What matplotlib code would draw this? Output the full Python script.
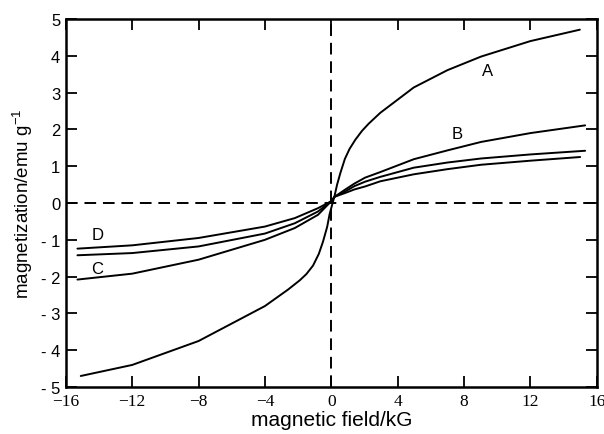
import matplotlib
matplotlib.use("Agg")
import matplotlib.pyplot as plt

plt.rcParams['font.family'] = ['Liberation Sans', 'DejaVu Sans']
plt.rcParams['mathtext.fontset'] = 'custom'
plt.rcParams['mathtext.rm'] = 'Liberation Sans'
plt.rcParams['mathtext.default'] = 'regular'

# field (kG) and magnetization (emu/g)
a_field = [-15.1, -12, -8, -4, -2.6, -1.9, -1.5, -1.1, -0.75, -0.5, -0.25, -0.1, 0.2,
           0.35, 0.55, 0.82, 1.1, 1.45, 1.85, 2.24, 2.95, 4.97, 7.0, 9.03, 12, 14.98]
a_mag = [-4.70, -4.40, -3.75, -2.80, -2.35, -2.10, -1.93, -1.70, -1.38, -1.05, -0.65, -0.30, 0.20,
         0.50, 0.82, 1.20, 1.47, 1.72, 1.96, 2.15, 2.45, 3.14, 3.61, 3.98, 4.40, 4.71]

b_field = [-15.3, -12, -8, -4, -2.2, -0.8, 0.0, 0.2, 0.82, 1.4, 2.04, 2.95, 4.97, 7.0, 9.03, 12, 15.3]
b_mag = [-2.08, -1.92, -1.54, -1.00, -0.68, -0.32, 0.05, 0.17, 0.36, 0.53, 0.69, 0.84, 1.19, 1.43, 1.66, 1.90, 2.11]

c_field = [-15.3, -12, -8, -4, -2.2, -0.8, 0.0, 0.2, 0.82, 1.4, 2.04, 2.95, 4.97, 7.0, 9.03, 12, 15.3]
c_mag = [-1.42, -1.36, -1.18, -0.83, -0.55, -0.23, 0.05, 0.17, 0.31, 0.46, 0.58, 0.71, 0.96, 1.10, 1.21, 1.32, 1.42]

d_field = [-15.3, -12, -8, -4, -2.2, -0.8, 0.0, 0.2, 0.82, 1.4, 2.04, 2.95, 4.97, 7.0, 9.03, 12, 15.0]
d_mag = [-1.24, -1.15, -0.95, -0.64, -0.41, -0.14, 0.05, 0.17, 0.27, 0.37, 0.45, 0.59, 0.78, 0.92, 1.04, 1.15, 1.25]

curve_labels = ['A', 'B', 'C', 'D']
label_pos = [(9.4, 3.6), (7.6, 1.89), (-14.1, -1.77), (-14.1, -0.86)]

x_ticks = [-16, -12, -8, -4, 0, 4, 8, 12, 16]
y_ticks = [-5, -4, -3, -2, -1, 0, 1, 2, 3, 4, 5]

fig = plt.figure(figsize=(6.04, 4.35), dpi=100)
ax = fig.add_axes([0.109, 0.108, 0.879, 0.846])

ax.axhline(0, color='black', lw=1.4, ls=(0, (6, 3.5)), zorder=1)
ax.axvline(0, color='black', lw=1.4, ls=(0, (6, 3.5)), zorder=1)

for xs, ys in [(a_field, a_mag), (b_field, b_mag), (c_field, c_mag), (d_field, d_mag)]:
    ax.plot(xs, ys, color='black', lw=1.4, solid_capstyle='round', solid_joinstyle='round', zorder=2)

for lab, (lx, ly) in zip(curve_labels, label_pos):
    ax.text(lx, ly, lab, fontsize=12, ha='center', va='center')

ax.set_xlim(-16, 16)
ax.set_ylim(-5, 5)
ax.set_xticks(x_ticks)
ax.set_xticklabels([('\u2212%d' % -t) if t < 0 else '%d' % t for t in x_ticks],
                   family='Liberation Serif', fontsize=12.5)
ax.set_yticks(y_ticks)
ax.set_yticklabels(['%d' % t if t >= 0 else '- %d' % -t for t in y_ticks], fontsize=12)
ax.tick_params(direction='in', length=8, width=1.3, top=True, right=True, pad=4)
for s in ax.spines.values():
    s.set_linewidth(1.8)

ax.set_xlabel('magnetic field/kG', fontsize=15, labelpad=1)
ax.set_ylabel('magnetization/emu g$^{-1}$', fontsize=13.5, labelpad=4)

fig.savefig('out.png', dpi=100)
